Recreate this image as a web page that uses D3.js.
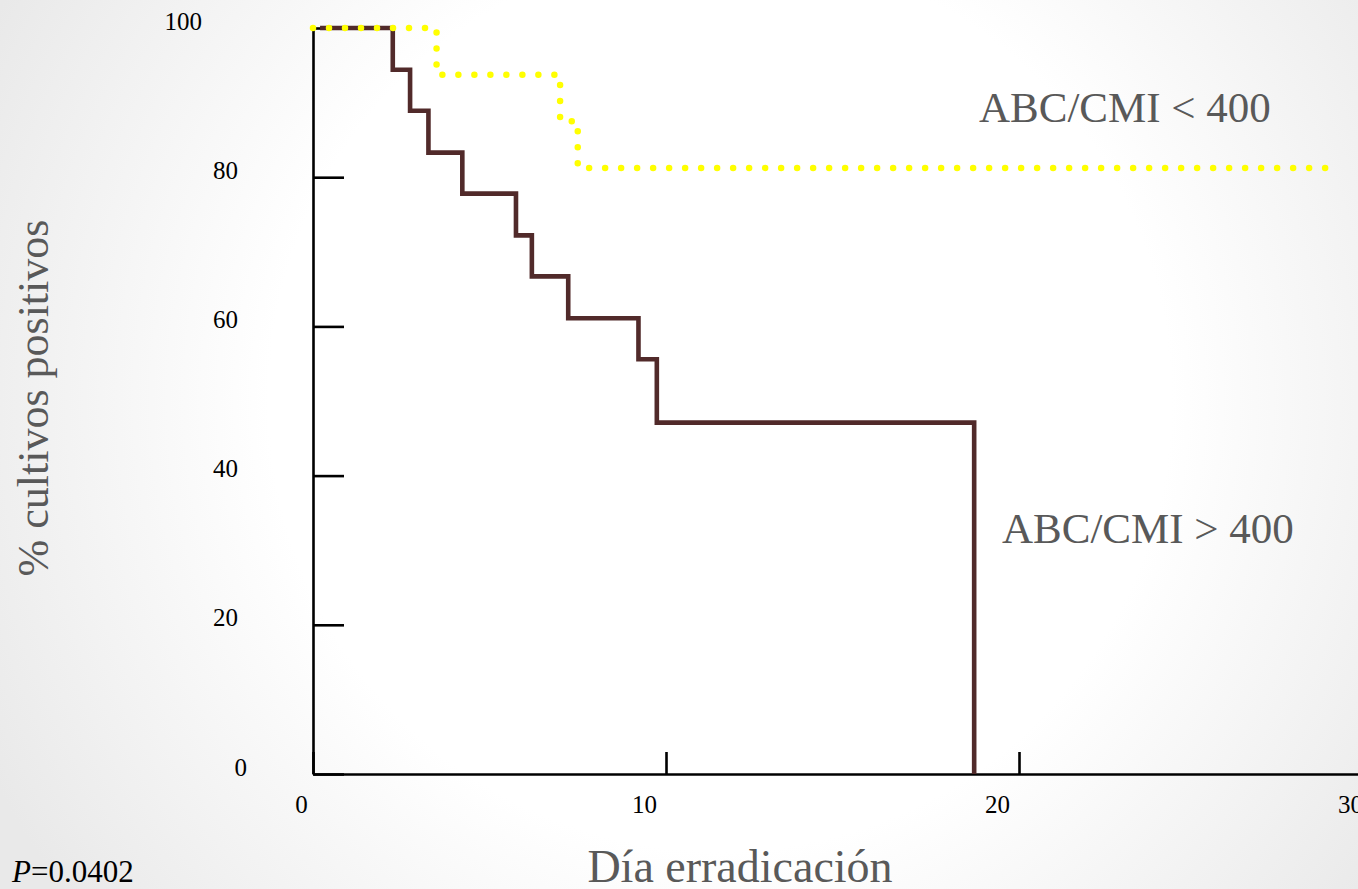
<!DOCTYPE html>
<html>
<head>
<meta charset="utf-8">
<script src="https://cdn.jsdelivr.net/npm/d3@7"></script>
<style>
  html, body { margin: 0; padding: 0; background: #fff; }
  svg { display: block; }
  text, tspan { font-family: "Liberation Serif", "Times New Roman", serif; }
</style>
</head>
<body>
<svg id="chart" width="1358" height="889"></svg>
<script>
// Kaplan–Meier style curves: % of positive cultures by eradication day
const xTickValues = [0, 10, 20, 30];
const yTickValues = [0, 20, 40, 60, 80, 100];

// ABC/CMI > 400
const highDays = [0.2, 2.26, 2.75, 3.27, 4.23, 5.75, 6.2, 7.23, 9.22, 9.74, 18.73];
const highPct  = [100, 94.4, 88.9, 83.3, 77.8, 72.2, 66.7, 61.1, 55.6, 47.1, 0];

// ABC/CMI < 400
const lowDays = [0, 3.5, 7.0, 7.5, 28.75];
const lowPct  = [100, 93.75, 87.5, 81.25, 81.25];

const seriesLabels = ["ABC/CMI < 400", "ABC/CMI > 400"];
const xTitle = "Día erradicación";
const yTitle = "% cultivos positivos";

const W = 1358, H = 889;
const svg = d3.select("#chart");

// soft slide-style background
const defs = svg.append("defs");
const grad = defs.append("radialGradient")
  .attr("id", "bg").attr("gradientUnits", "userSpaceOnUse")
  .attr("cx", 720).attr("cy", 400).attr("r", 820);
grad.append("stop").attr("offset", 0).attr("stop-color", "#ffffff");
grad.append("stop").attr("offset", 0.55).attr("stop-color", "#ffffff");
grad.append("stop").attr("offset", 1).attr("stop-color", "#e9e9e9");
svg.append("rect").attr("width", W).attr("height", H).attr("fill", "url(#bg)");

const x = d3.scaleLinear().domain([0, 30]).range([313, 1372]);
const y = d3.scaleLinear().domain([0, 100]).range([774, 28]);

// x axis: ticks point up into the plot
const xAxis = d3.axisBottom(x).tickValues(xTickValues)
  .tickSizeInner(-22).tickSizeOuter(0).tickPadding(39);
const gx = svg.append("g").attr("transform", `translate(0,${y(0)})`).call(xAxis);
gx.selectAll("text")
  .attr("dy", 0)
  .attr("x", d => d === 0 ? -12 : -22)
  .attr("font-size", 25).attr("fill", "#000");

// y axis: ticks point right into the plot
const yAxis = d3.axisLeft(y).tickValues(yTickValues)
  .tickSizeInner(-31).tickSizeOuter(0).tickPadding(75);
const gy = svg.append("g").attr("transform", `translate(${x(0)},0)`).call(yAxis);
gy.selectAll("text")
  .attr("dy", 0).attr("y", 1)
  .attr("x", d => d === 100 ? -111 : d === 0 ? -66 : -75)
  .attr("font-size", 25).attr("fill", "#000");

[gx, gy].forEach(g => {
  g.select(".domain").attr("stroke", "#000").attr("stroke-width", 2.6);
  g.selectAll(".tick line").attr("stroke", "#000").attr("stroke-width", 2.6);
});

const line = d3.line().curve(d3.curveStepAfter)
  .x(d => x(d[0])).y(d => y(d[1]));

const highData = highDays.map((d, i) => [d, highPct[i]]);
const lowData = lowDays.map((d, i) => [d, lowPct[i]]);

svg.append("path").datum(highData)
  .attr("d", line).attr("fill", "none")
  .attr("stroke", "#512a2a").attr("stroke-width", 4.6)
  .attr("stroke-linejoin", "miter");

svg.append("path").datum(lowData)
  .attr("d", line).attr("fill", "none")
  .attr("stroke", "#ffff00").attr("stroke-width", 6.5)
  .attr("stroke-linecap", "round").attr("stroke-dasharray", "0 16");

// series annotations
svg.append("text").attr("x", 979).attr("y", 122)
  .attr("font-size", 43).attr("fill", "#595959").text(seriesLabels[0]);
svg.append("text").attr("x", 1002).attr("y", 543)
  .attr("font-size", 43).attr("fill", "#595959").text(seriesLabels[1]);

// axis titles
svg.append("text").attr("x", 740).attr("y", 882)
  .attr("text-anchor", "middle").attr("font-size", 46)
  .attr("fill", "#595959").text(xTitle);
svg.append("text")
  .attr("transform", "translate(48,398) rotate(-90)")
  .attr("text-anchor", "middle").attr("font-size", 44)
  .attr("fill", "#595959").text(yTitle);

// significance note
const p = svg.append("text").attr("x", 12).attr("y", 882)
  .attr("font-size", 31).attr("fill", "#000");
p.append("tspan").attr("font-style", "italic").text("P");
p.append("tspan").text("=0.0402");
</script>
</body>
</html>
